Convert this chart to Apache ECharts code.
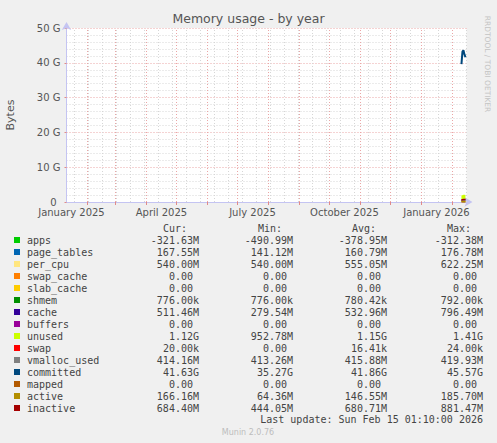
<!DOCTYPE html>
<html><head><meta charset="utf-8">
<script src="https://cdn.jsdelivr.net/npm/echarts@6/dist/echarts.min.js"></script>
<style>html,body{margin:0;padding:0;background:#f0f0f0;}#c{width:497px;height:443px;}</style>
</head><body><div id="c"></div>
<script>
// ---------- data ----------
const seriesNames = ['apps','page_tables','per_cpu','swap_cache','slab_cache','shmem','cache','buffers','unused','swap','vmalloc_used','committed','mapped','active','inactive'];
const stackedNames = ['apps','page_tables','per_cpu','swap_cache','slab_cache','shmem','cache','buffers','unused','swap'];
const seriesColors = ['#00cc00','#0066b3','#ffe680','#ff8000','#ffcc00','#008f00','#330099','#990099','#ccff00','#ff0000','#808080','#00487d','#b35a00','#b38f00','#a50000'];
const dates = ['2026-02-10','2026-02-11','2026-02-12','2026-02-13','2026-02-14'];
// values in G
const apps        = [-0.39, -0.41, -0.37, -0.35, -0.32];
const page_tables = [0.15, 0.16, 0.16, 0.165, 0.168];
const per_cpu     = [0.56, 0.55, 0.55, 0.55, 0.54];
const swap_cache  = [0, 0, 0, 0, 0];
const slab_cache  = [0, 0, 0, 0, 0];
const shmem       = [0.0007, 0.0007, 0.0007, 0.0007, 0.0007];
const cache       = [0.40, 0.55, 0.60, 0.58, 0.51];
const buffers     = [0, 0, 0, 0, 0];
const unused      = [1.25, 1.10, 1.15, 1.16, 1.12];
const swap        = [0.00002, 0, 0, 0.00002, 0.00002];
const vmalloc_used= [0.416, 0.415, 0.416, 0.416, 0.414];
const committed   = [39.6, 43.2, 43.6, 42.4, 41.6];
const mapped      = [0, 0, 0, 0, 0];
const active      = [0.12, 0.14, 0.16, 0.16, 0.166];
const inactive    = [0.60, 0.68, 0.72, 0.70, 0.684];
const seriesValues = {apps,page_tables,per_cpu,swap_cache,slab_cache,shmem,cache,buffers,unused,swap,vmalloc_used,committed,mapped,active,inactive};

const curValues = ['-321.63M','167.55M','540.00M','0.00','0.00','776.00k','511.46M','0.00','1.12G','20.00k','414.16M','41.63G','0.00','166.16M','684.40M'];
const minValues = ['-490.99M','141.12M','540.00M','0.00','0.00','776.00k','279.54M','0.00','952.78M','0.00','413.26M','35.27G','0.00','64.36M','444.05M'];
const avgValues = ['-378.95M','160.79M','555.05M','0.00','0.00','780.42k','532.96M','0.00','1.15G','16.41k','415.88M','41.86G','0.00','146.55M','680.71M'];
const maxValues = ['-312.38M','176.78M','622.25M','0.00','0.00','792.00k','796.49M','0.00','1.41G','24.00k','419.93M','45.57G','0.00','185.70M','881.47M'];
const columnHeaders = ['Cur:','Min:','Avg:','Max:'];

const xLabelDates = ['2025-01-16','2025-04-16','2025-07-16','2025-10-16','2026-01-16'];
const xLabelTexts = ['January 2025','April 2025','July 2025','October 2025','January 2026'];
const yMax = 50, yStep = 10;
const endTime = '2026-02-15T01:10:00Z';
const rangeDays = 400;

// ---------- helpers ----------
const DAY = 86400000;
const tEnd = Date.parse(endTime);
const tStart = tEnd - rangeDays * DAY;
const ts = s => Date.parse(s + 'T00:00:00Z');
const monthStarts = [];
for (let y = 2025, m = 1; ; m++) {
  if (m > 11) { m = 0; y++; }
  const t = Date.UTC(y, m, 1);
  if (t > tEnd) break;
  monthStarts.push(t);
}
const minorLines = [];
for (let t = Date.UTC(2025, 0, 19); t <= tEnd; t += 14 * DAY) minorLines.push(t);

const series = [];
series.push({
  name: '_grid', type: 'line', data: [[tStart, null]], z: 1, silent: true, showSymbol: false,
  markLine: {
    silent: true, symbol: ['none','none'], animation: false,
    label: {show: false},
    data: minorLines.map(t => ({xAxis: t, lineStyle: {color: '#d6d6d6', type: [1,2], width: 1}}))
      .concat(monthStarts.map(t => ({xAxis: t, lineStyle: {color: '#eaa6a6', type: [1,2], width: 1}})))
  }
});
seriesNames.forEach((n, i) => {
  const stacked = stackedNames.includes(n);
  const s = {
    name: n, type: 'line', showSymbol: false, animation: false, z: 3,
    data: dates.map((d, k) => [ts(d), seriesValues[n][k]]),
    itemStyle: {color: seriesColors[i]},
    lineStyle: {color: seriesColors[i], width: stacked ? 0 : (n === 'committed' ? 2 : 1.5)}
  };
  if (stacked) {
    s.stack = 'mem';
    s.stackStrategy = 'all';
    s.areaStyle = {color: seriesColors[i], opacity: 1};
  }
  series.push(s);
});

const graphics = [];
const rowTop = 240, rowH = 12;
const colRight = [199, 293, 387, 483];
const colHeadLeft = [163, 258, 352, 447];
const monoFont = '10px "DejaVu Sans Mono"';
[curValues, minValues, avgValues, maxValues].forEach((col, c) => {
  graphics.push({type: 'text', x: colHeadLeft[c], y: rowTop - rowH, silent: true,
    style: {text: columnHeaders[c], font: monoFont, fill: '#444', align: 'left', verticalAlign: 'middle'}});
  col.forEach((v, r) => {
    const pad = /[0-9]$/.test(v) ? 6 : 0;
    graphics.push({type: 'text', x: colRight[c] - pad, y: rowTop + r * rowH, silent: true,
      style: {text: v, font: monoFont, fill: '#444', align: 'right', verticalAlign: 'middle'}});
  });
});
graphics.push({type: 'text', x: 483, y: 419, silent: true,
  style: {text: 'Last update: Sun Feb 15 01:10:00 2026', font: monoFont, fill: '#444', align: 'right', verticalAlign: 'middle'}});
graphics.push({type: 'text', x: 248, y: 432, silent: true,
  style: {text: 'Munin 2.0.76', font: '8px "DejaVu Sans"', fill: '#bdbdbd', align: 'center', verticalAlign: 'middle'}});
graphics.push({type: 'text', x: 10.5, y: 115, rotation: Math.PI / 2, silent: true,
  style: {text: 'Bytes', font: '11px "DejaVu Sans"', fill: '#555', align: 'center', verticalAlign: 'middle'}});
graphics.push({type: 'text', x: 487, y: 64, rotation: -Math.PI / 2, silent: true,
  style: {text: 'RRDTOOL / TOBI OETIKER', font: '7.5px "DejaVu Sans"', fill: '#c4c4c4', align: 'center', verticalAlign: 'middle'}});

const labelTimes = xLabelDates.map(ts);
const axisColor = '#c4c4f2';
const option = {
  backgroundColor: '#f0f0f0',
  animation: false,
  title: {text: 'Memory usage - by year', left: 'center', top: 12, padding: 0,
    textStyle: {fontFamily: 'DejaVu Sans', fontSize: 12.5, fontWeight: 'normal', color: '#555'}},
  legend: {
    data: seriesNames, orient: 'vertical', left: 14, top: 234, padding: 0, itemGap: 0,
    icon: 'rect', itemWidth: 6, itemHeight: 6, selectedMode: false,
    textStyle: {fontFamily: 'DejaVu Sans Mono', fontSize: 10, color: '#444', lineHeight: 12, padding: [0,0,0,2]}
  },
  grid: {left: 66.5, right: 30.5, top: 28, bottom: 241, show: true, backgroundColor: '#ffffff', borderWidth: 0, containLabel: false},
  xAxis: [{
    type: 'time', min: tStart, max: tEnd, position: 'bottom',
    axisLine: {show: true, onZero: false, lineStyle: {color: axisColor, width: 1}, symbol: ['none','arrow'], symbolSize: [7, 8], symbolOffset: [0, 6]},
    axisTick: {show: false}, axisLabel: {show: false}, splitLine: {show: false}
  }, {
    type: 'value', min: tStart, max: tEnd, position: 'bottom',
    axisLine: {show: false, onZero: false},
    axisTick: {show: true, customValues: monthStarts, length: 3, lineStyle: {color: '#e08a8a'}},
    axisLabel: {customValues: labelTimes, margin: 5, fontFamily: 'DejaVu Sans', fontSize: 10, color: '#555',
      formatter: v => { const i = labelTimes.indexOf(v); return i >= 0 ? xLabelTexts[i] : ''; }},
    splitLine: {show: false}
  }],
  yAxis: {
    type: 'value', min: 0, max: yMax, interval: yStep,
    axisLine: {show: true, lineStyle: {color: axisColor, width: 1}, symbol: ['none','arrow'], symbolSize: [7, 8], symbolOffset: [0, 6]},
    axisTick: {show: true, length: 2, lineStyle: {color: '#e08a8a'}},
    axisLabel: {margin: 6, fontFamily: 'DejaVu Sans', fontSize: 10, color: '#555',
      formatter: v => v === 0 ? '{z|0}' : v + ' G', rich: {z: {fontFamily: 'DejaVu Sans', fontSize: 10, color: '#555', padding: [0, 4, 0, 0]}}},
    splitLine: {show: true, lineStyle: {color: '#eaa6a6', type: [1,2], width: 1}},
    minorTick: {show: false, splitNumber: 5},
    minorSplitLine: {show: true, lineStyle: {color: '#d6d6d6', type: [1,2], width: 1}}
  },
  series: series,
  graphic: graphics
};
const chart = echarts.init(document.getElementById('c'), null, {renderer: 'svg'});
chart.setOption(option);
</script>
</body></html>
